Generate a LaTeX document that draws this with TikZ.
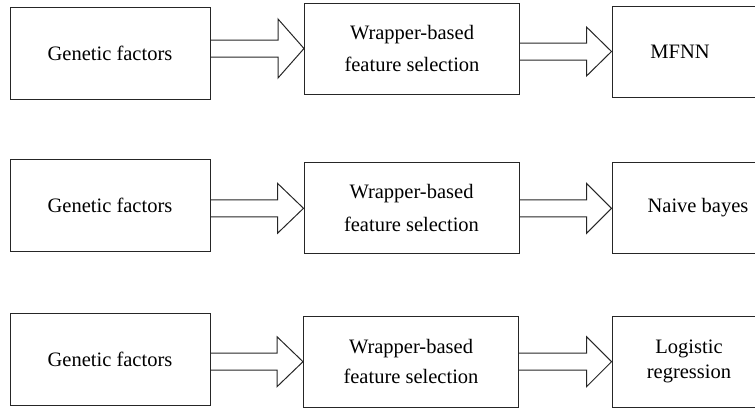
\documentclass[tikz,border=0pt]{standalone}
\usepackage{fontspec}
\setmainfont{Liberation Serif}
\usetikzlibrary{calc}
\newcommand\fatarr[6]{% from, to, y (image px), head length, half head, half shaft
  \draw[fat] let \p1=(#1.east), \p2=(#2.west) in
    (\x1,{-(#3-#6)*1pt}) -- ({\x2-#4*1pt},{-(#3-#6)*1pt}) -- ({\x2-#4*1pt},{-(#3-#5)*1pt})
    -- (\x2,{-#3*1pt}) -- ({\x2-#4*1pt},{-(#3+#5)*1pt}) -- ({\x2-#4*1pt},{-(#3+#6)*1pt})
    -- (\x1,{-(#3+#6)*1pt});}
\begin{document}
\begin{tikzpicture}[x=1pt,y=-1pt,
  box/.style={draw=black!85, line width=1pt, rectangle, inner sep=0pt, align=center,
    font=\fontsize{20.5}{24.6}\selectfont},
  abox/.style={box, minimum width=200pt, minimum height=92pt},
  bbox/.style={box, minimum width=215pt, minimum height=91pt},
  cbox/.style={box, minimum width=160pt, minimum height=91pt},
  txt/.style={font=\fontsize{20.5}{24.6}\selectfont, align=center},
  fat/.style={draw=black!85, line width=1pt, line join=miter}]
\useasboundingbox (0,0) rectangle (755,408);
\clip (0,0) rectangle (755,408);
% row 1
\node[abox] (a1) at (110,53) {Genetic factors};
\node[bbox] (b1) at (412,48.5) {Wrapper-based\\[8pt]feature selection};
\node[cbox, label={[txt,xshift=-12pt]center:MFNN}] (c1) at (692,51.5) {};
% row 2
\node[abox] (a2) at (110,205) {Genetic factors};
\node[bbox] (b2) at (411.5,208) {Wrapper-based\\[8pt]feature selection};
\node[cbox, label={[txt,xshift=6pt]center:Naive bayes}] (c2) at (692,208) {};
% row 3
\node[abox] (a3) at (110,359) {Genetic factors};
\node[bbox] (b3) at (411,361.5) {Wrapper-based\\[6pt]feature selection};
\node[cbox, label={[txt,xshift=-3pt]center:Logistic\\regression}] (c3) at (692,361.5) {};
% arrows
\fatarr{a1}{b1}{48.5}{26}{29.5}{8.5}
\fatarr{b1}{c1}{51.5}{25}{24.5}{8.5}
\fatarr{a2}{b2}{208.3}{26}{25}{8.5}
\fatarr{b2}{c2}{208.3}{25}{25}{8.5}
\fatarr{a3}{b3}{361.7}{26}{25}{8.5}
\fatarr{b3}{c3}{361.7}{25}{25}{8.5}
\end{tikzpicture}
\end{document}
